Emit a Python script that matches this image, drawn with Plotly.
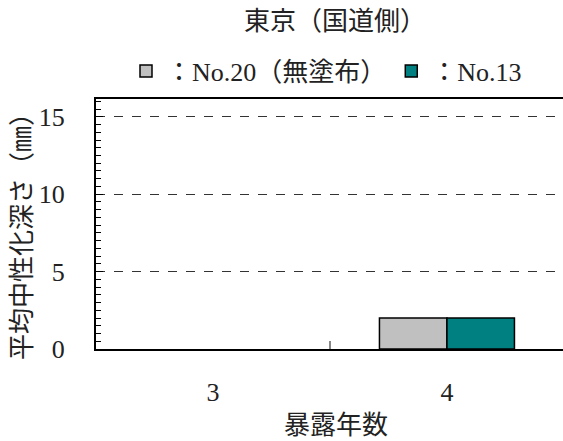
import plotly.graph_objects as go

categories = ["3", "4"]
no20_values = [None, 2.0]
no13_values = [None, 2.0]
y_ticks = [0, 5, 10, 15]

FONT = "Liberation Serif, Noto Sans CJK JP, serif"
TXT = "#222"

fig = go.Figure()
fig.add_trace(go.Bar(x=categories, y=no20_values, name="：No.20（無塗布）",
                     marker=dict(color="#C0C0C0", line=dict(color="black", width=1.5))))
fig.add_trace(go.Bar(x=categories, y=no13_values, name="：No.13",
                     marker=dict(color="#008080", line=dict(color="black", width=1.5))))

fig.update_layout(
    width=563, height=441,
    margin=dict(l=96, r=0, t=99, b=92, autoexpand=False),
    paper_bgcolor="white", plot_bgcolor="white",
    font=dict(family=FONT, size=26, color=TXT),
    barmode="group", bargap=0.423, bargroupgap=0,
    title=dict(text="東京（国道側）", xref="container", x=335 / 563, xanchor="center",
               yref="container", y=1 - 21 / 441, yanchor="middle", font=dict(size=26)),
    legend=dict(orientation="h", xref="container", x=(146 - 20) / 563, xanchor="left",
                yref="container", y=1 - 71 / 441, yanchor="middle",
                font=dict(size=26), itemwidth=30, traceorder="normal",
                bgcolor="rgba(0,0,0,0)"),
    showlegend=True,
    annotations=[
        dict(text="暴露年数", xref="paper", yref="paper", x=(336 - 96) / 467,
             y=(349 - 425) / 250, xanchor="center", yanchor="middle", showarrow=False,
             font=dict(size=26, color=TXT)),
        dict(text="平均中性化深さ（㎜）", xref="paper", yref="paper", x=(22 - 96) / 467,
             y=(349 - 230) / 250, xanchor="center", yanchor="middle", textangle=-90,
             showarrow=False, font=dict(size=26, color=TXT)),
    ],
)
fig.update_xaxes(
    type="category", range=[-0.5, 1.496], automargin=False,
    showline=True, linecolor="black", linewidth=2, mirror=True,
    ticks="inside", tickson="boundaries", ticklen=8, tickcolor="#888", tickwidth=1.5,
    ticklabelstandoff=19, tickfont=dict(size=26),
    showgrid=False,
)
fig.update_yaxes(
    range=[0, 16.15], tickvals=y_ticks, automargin=False,
    showline=True, linecolor="black", linewidth=2,
    ticks="inside", ticklen=7, tickcolor="black",
    minor=dict(dtick=0.5, ticks="inside", ticklen=5, tickcolor="black", showgrid=False),
    showgrid=True, gridcolor="#333", griddash="dash", gridwidth=1,
    zeroline=False, ticklabelstandoff=24, tickfont=dict(size=26),
)

fig.write_html("out.html", post_script="document.body.style.margin='0';",
               config={"displayModeBar": False})
